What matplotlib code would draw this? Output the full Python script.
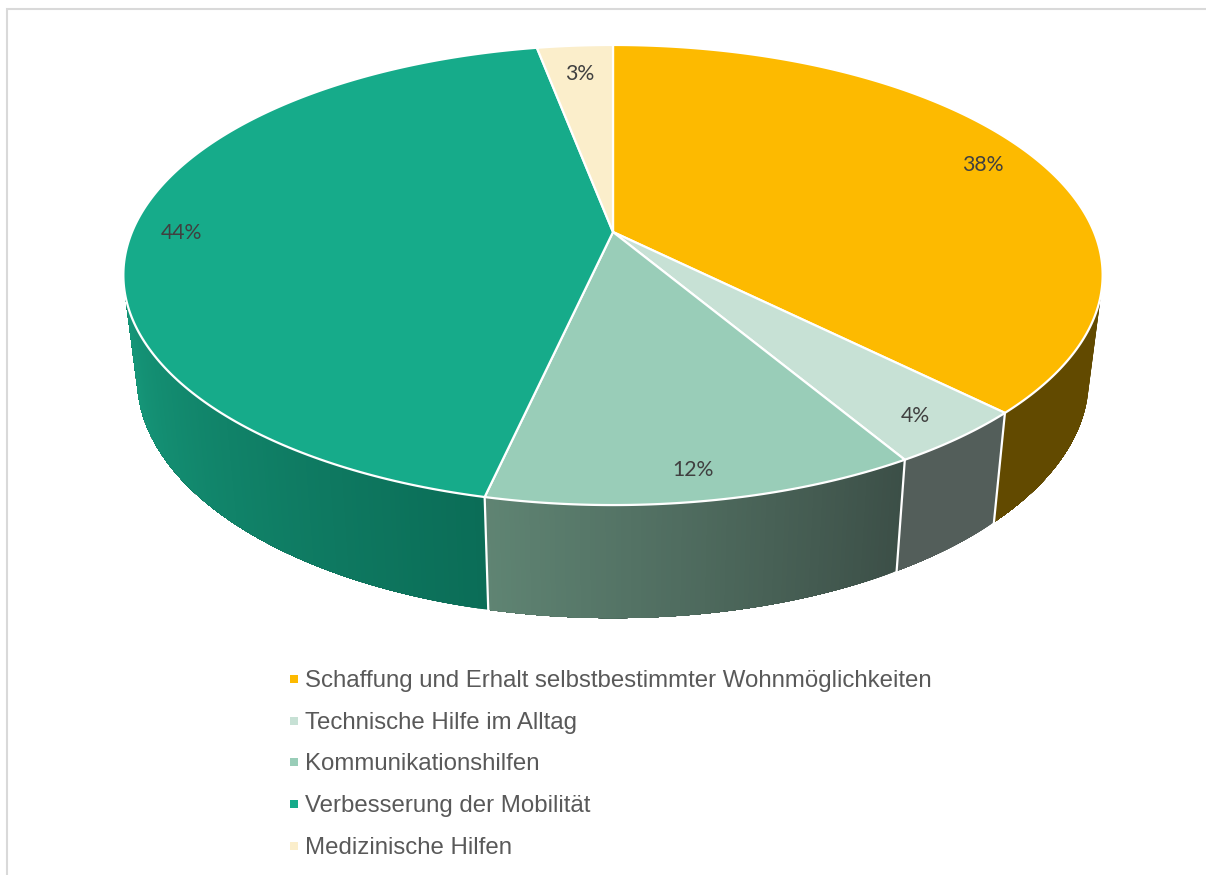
import numpy as np
import matplotlib
matplotlib.use('Agg')
import matplotlib.pyplot as plt
from matplotlib.colors import to_rgb
from matplotlib.patches import Polygon

# Data
categories = ['Schaffung und Erhalt selbstbestimmter Wohnmöglichkeiten',
              'Technische Hilfe im Alltag',
              'Kommunikationshilfen',
              'Verbesserung der Mobilität',
              'Medizinische Hilfen']
values = [37.5, 4, 12, 43.5, 3]

# Colours: top face, side colour on the right end, side colour on the left end
top_colors = ['#FDBA00', '#C7E1D5', '#99CDB8', '#16AB8A', '#FBEECB']
side_right = ['#624A00', '#535E5A', '#3C4F47', '#0B6D57', '#8A8270']
side_left = ['#624A00', '#535E5A', '#5F8473', '#16987A', '#8A8270']
label_r = [0.885, 0.89, 0.89, 0.9, 0.85]

# Perspective of the disc, all in pixels of the output image
cx = 613
k = 0.187
top_y, top_a, top_b = 232, 481, 222
bot_y, bot_a, bot_b = 334, 467.5, 231
vis_from, vis_to = 104.5, 255.5  # part of the rim where the side can be seen


def project(theta, r, y0, a, b):
    u = r * np.sin(np.radians(theta))
    v = r * np.cos(np.radians(theta))
    w = 1 + k * v
    return cx + a * u / w, y0 - b * v / w


def top(theta, r=1.0):
    return project(theta, r, top_y, top_a, top_b)


def bottom(theta):
    return project(theta, 1.0, bot_y, bot_a, bot_b)


fig = plt.figure(figsize=(12.06, 8.75), dpi=100)
ax = fig.add_axes([0, 0, 1, 1])
ax.set_xlim(0, 1206)
ax.set_ylim(875, 0)
ax.axis('off')

# Chart frame
ax.plot([7, 7, 1206], [875, 9, 9], color='#D9D9D9', lw=1.5, solid_joinstyle='miter')

edges = np.concatenate([[0], np.cumsum(values)]) / np.sum(values) * 360

# Sides: each strip reaches to the end of the slice, the next one paints over it
for i in range(len(values)):
    a0, a1 = max(edges[i], vis_from), min(edges[i + 1], vis_to)
    if a0 >= a1:
        continue
    steps = np.linspace(a0, a1, int((a1 - a0) * 2) + 2)
    c0, c1 = np.array(to_rgb(side_right[i])), np.array(to_rgb(side_left[i]))
    for j in range(len(steps) - 1):
        t = j / max(len(steps) - 2, 1)
        col = c0 + (c1 - c0) * t
        th = steps[j:]
        xt, yt = top(th)
        xb, yb = bottom(th)
        pts = list(zip(xt, yt)) + list(zip(xb[::-1], yb[::-1]))
        ax.add_patch(Polygon(pts, facecolor=col, edgecolor='none', zorder=2))

# White lines between the side faces
for e in edges:
    if vis_from < e < vis_to:
        xt, yt = top(e)
        xb, yb = bottom(e)
        ax.plot([xt, xb], [yt, yb], color='white', lw=1.6, zorder=3)

# Top faces
for i in range(len(values)):
    th = np.linspace(edges[i], edges[i + 1], 200)
    xs, ys = top(th)
    pts = [top(0, 0)] + list(zip(xs, ys))
    ax.add_patch(Polygon(pts, closed=True, facecolor=top_colors[i], edgecolor='white',
                         lw=1.6, joinstyle='round', zorder=4))

# Percent labels
for i in range(len(values)):
    mid = (edges[i] + edges[i + 1]) / 2
    lx, ly = top(mid, label_r[i])
    ax.text(lx, ly + 4, f'{int(values[i] + 0.5)}%', ha='center', va='center', fontsize=15.3,
            family='Lato', color='#404040', zorder=5)

# Legend
legend_y = [679, 721, 762, 804, 846]
for name, col, y in zip(categories, top_colors, legend_y):
    ax.plot([294], [y], marker='s', ms=5.8, mew=0, color=col)
    ax.text(305, y + 2, name, ha='left', va='center', fontsize=17.3,
            family='Liberation Sans', color='#595959')

fig.savefig('out.png', dpi=100)
